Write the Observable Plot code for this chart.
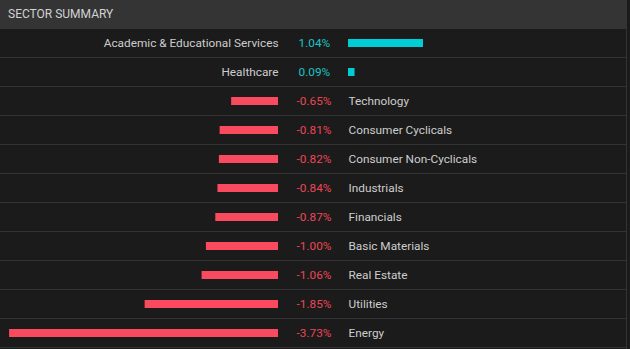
<!DOCTYPE html>
<html><head><meta charset="utf-8">
<script src="https://cdn.jsdelivr.net/npm/d3@7"></script>
<script src="https://cdn.jsdelivr.net/npm/@observablehq/plot@0.6"></script>
<style>
html,body{margin:0;padding:0;background:#1b1b1b;}
#wrap{position:relative;width:630px;height:349px;overflow:hidden;font-family:Roboto,sans-serif;background:#1b1b1b;}
#hdr{height:29px;width:626px;background:#343434;color:#d2d2d2;font-size:12px;line-height:29px;padding-left:8px;box-sizing:border-box;}
#edge{position:absolute;left:626px;top:0;width:1px;height:349px;background:#333;}
#chart svg{display:block;}
</style></head><body>
<div id="wrap"><div id="hdr">SECTOR SUMMARY</div><div id="chart"></div><div id="edge"></div></div>
<script>
const sectors = ["Academic & Educational Services","Healthcare","Technology","Consumer Cyclicals","Consumer Non-Cyclicals","Industrials","Financials","Basic Materials","Real Estate","Utilities","Energy"];
const values = [1.04, 0.09, -0.65, -0.81, -0.82, -0.84, -0.87, -1.00, -1.06, -1.85, -3.73];

const data = sectors.map((s, i) => ({sector: s, value: values[i]}));
const pos = data.filter(d => d.value >= 0);
const neg = data.filter(d => d.value < 0);

const xMin = -3.856, xMax = 4.882, gap = 0.971, xEdge = 4.827;
const fmt = d => d.value.toFixed(2) + "%";
const red = "#f94a5f", cyan = "#00ced6", redText = "#ec4656", cyanText = "#1cc3c6", labelCol = "#cdcdcd";
const fs = 11.8;

const chart = Plot.plot({
  width: 630, height: 320,
  marginTop: 0, marginBottom: 0, marginLeft: 0, marginRight: 0,
  style: {background: "transparent", fontFamily: "Roboto, sans-serif"},
  x: {domain: [xMin, xMax], range: [0, 630], axis: null},
  y: {domain: sectors, range: [0, 319], padding: 0, axis: null},
  marks: [
    Plot.barX(data, {y: "sector", x1: xMin, x2: xEdge, fill: "#333333", insetTop: 28}),
    Plot.barX(neg, {y: "sector", x1: 0, x2: "value", fill: red, insetTop: 10, insetBottom: 11}),
    Plot.barX(pos, {y: "sector", x1: gap, x2: d => gap + d.value, fill: cyan, insetTop: 10, insetBottom: 11}),
    Plot.text(pos, {y: "sector", x: 0, text: "sector", textAnchor: "end", fill: labelCol, fontSize: fs, dy: -0.6}),
    Plot.text(pos, {y: "sector", x: 0, dx: 20, text: fmt, textAnchor: "start", fill: cyanText, fontSize: fs, dy: -0.6}),
    Plot.text(neg, {y: "sector", x: 0, dx: 18, text: fmt, textAnchor: "start", fill: redText, fontSize: fs, dy: -0.6}),
    Plot.text(neg, {y: "sector", x: gap, text: "sector", textAnchor: "start", fill: labelCol, fontSize: fs, dy: -0.6})
  ]
});
document.getElementById("chart").appendChild(chart);
</script>
</body></html>
